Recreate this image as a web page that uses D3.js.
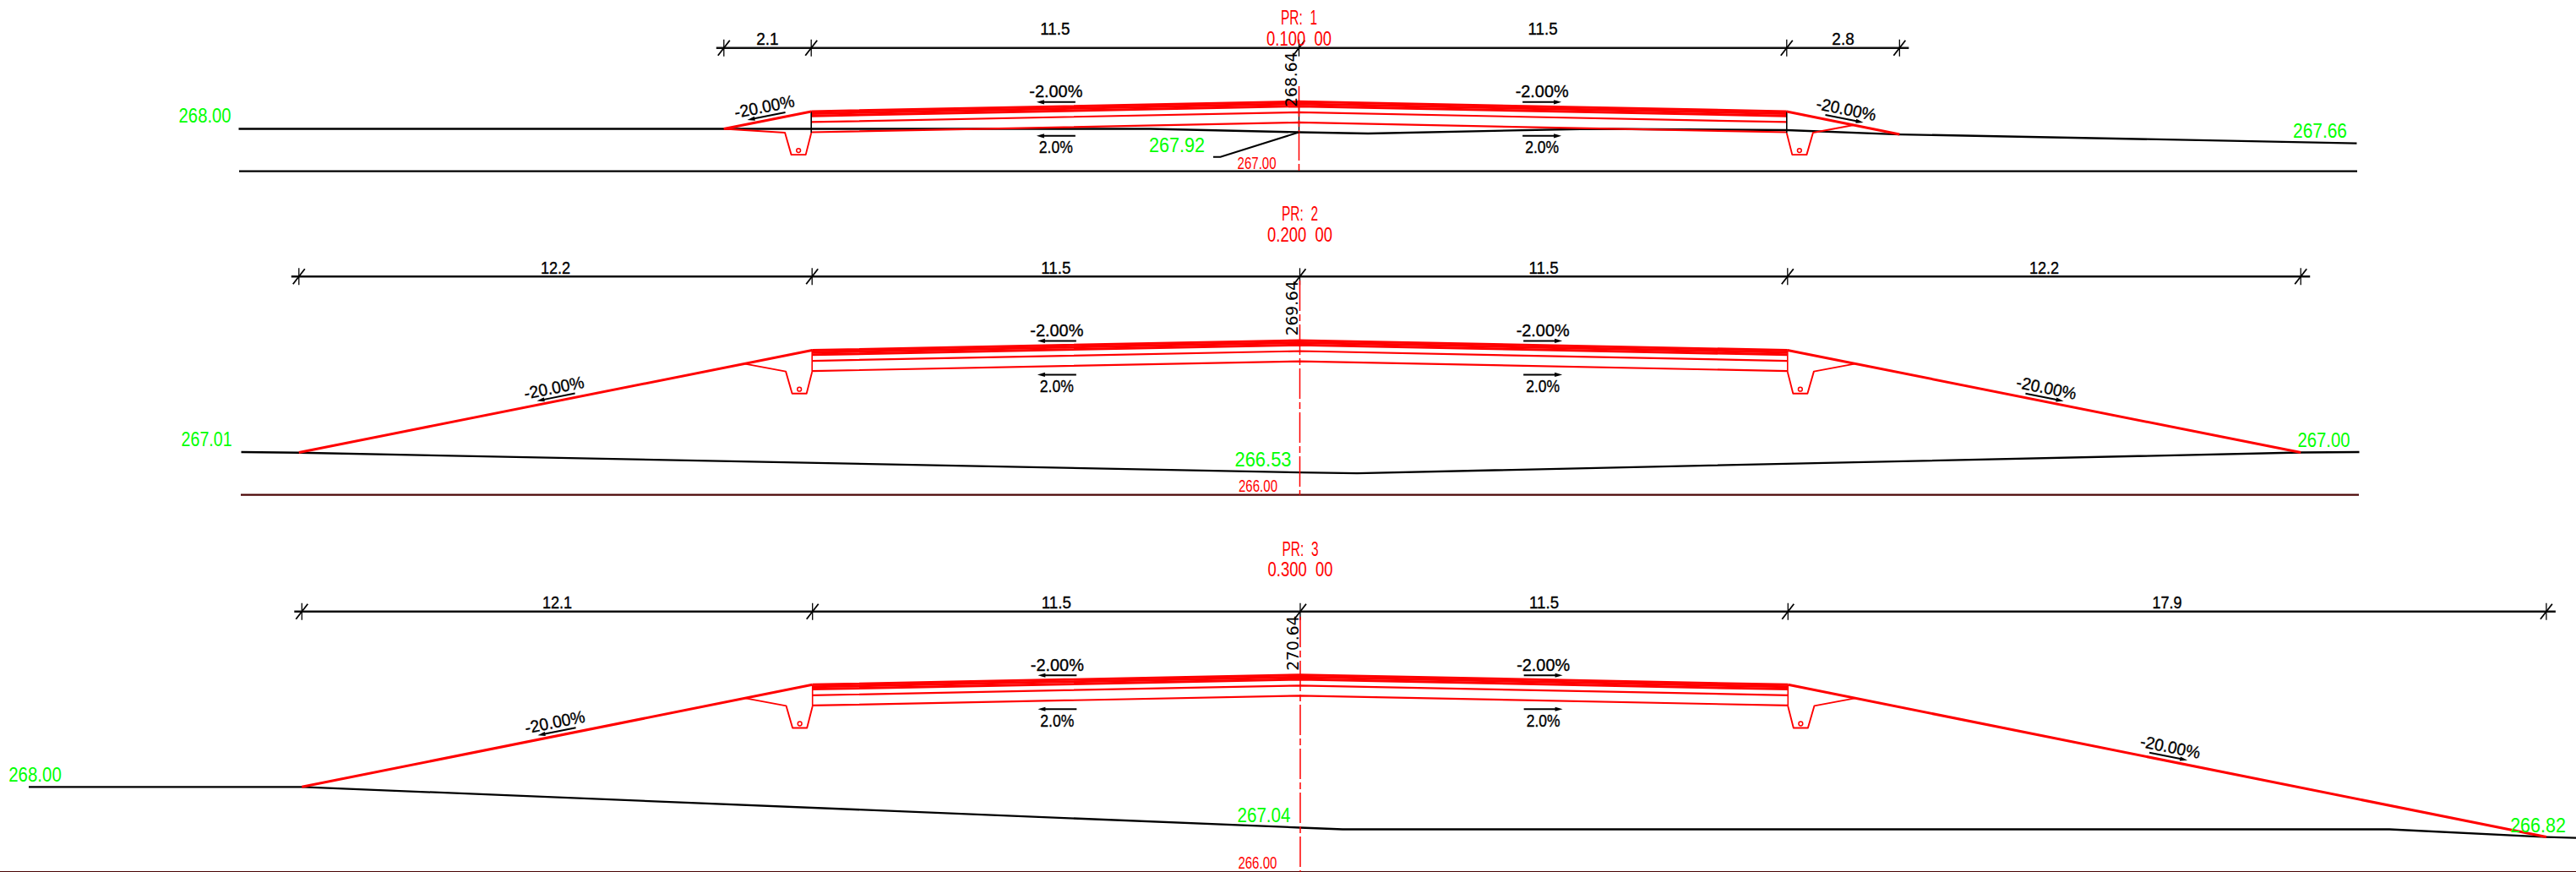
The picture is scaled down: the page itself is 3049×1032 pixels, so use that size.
<!DOCTYPE html>
<html>
<head>
<meta charset="utf-8">
<script src="https://cdn.jsdelivr.net/npm/d3@7"></script>
<style>
  html, body { margin: 0; padding: 0; background: #fff; }
  text { font-family: "Liberation Sans", Arial, sans-serif; white-space: pre; dominant-baseline: central; text-anchor: middle; }
</style>
</head>
<body>
<div id="sections"></div>
<script>
// section titles
const SECTION_NAMES = ["PR:  1", "PR:  2", "PR:  3"]
const CHAINAGES = ["0.100  00", "0.200  00", "0.300  00"]

// elevations, metres
const DATUMS = [267.00, 266.00, 266.00]
const DATUM_LABELS = ["267.00", "266.00", "266.00"]
const CROWNS = [268.64, 269.64, 270.64]
const CROWN_LABELS = ["268.64", "269.64", "270.64"]

// ground line, [offset from axis, elevation]
const GROUND_1 = [[-25.0, 268.00], [-3.5, 268.00], [0, 267.92], [1.63, 267.89], [6.9, 268.00], [11.5, 267.97], [14.16, 267.87], [24.94, 267.66]]
const GROUND_2 = [[-24.96, 267.01], [-23.6, 266.995], [0, 266.53], [1.35, 266.51], [23.6, 267.00], [24.98, 267.01]]
const GROUND_3 = [[-29.98, 268.00], [-23.54, 268.00], [0, 267.04], [1.0, 267.00], [25.68, 267.00], [29.38, 266.82], [30.08, 266.80]]
const GROUNDS = [GROUND_1, GROUND_2, GROUND_3]

// toes of the embankment
const TOE_LEFT = [[-13.56, 268.00], [-23.6, 267.00], [-23.54, 268.00]]
const TOE_RIGHT = [[14.16, 267.87], [23.6, 267.00], [29.38, 266.82]]

// dimension line values
const DIM_LEFT = ["2.1", "12.2", "12.1"]
const DIM_ROAD = "11.5"
const ROAD_HALF = 11.5
const DIM_RIGHT = ["2.8", "12.2", "17.9"]

// grades
const GRADE_TOP = "-2.00%"
const GRADE_BOTTOM = "2.0%"
const GRADE_SLOPE = "-20.00%"

// pavement layers, depth under the finished surface
const LAYER_DEPTHS = [0, 0.05, 0.105, 0.25, 0.49]

// ditch profile, measured from road edge: outward distance, drop
const DITCH = [[0, 0.51], [0.13, 1.02], [0.47, 1.02], [0.62, 0.50], [1.58, 0.32]]
const DITCH_END_1 = [2.06, 0.41]
const DITCH_PIPE = [0.30, 0.92]

// ground spot heights
const GROUND_LABELS_1 = ["268.00", "267.92", "267.66"]
const GROUND_LABELS_2 = ["267.01", "266.53", "267.00"]
const GROUND_LABELS_3 = ["268.00", "267.04", "266.82"]
const GROUND_LABELS = [GROUND_LABELS_1, GROUND_LABELS_2, GROUND_LABELS_3]

/*********************************************
// Layout
*********************************************/
const WIDTH = 3049
const HEIGHT = 1032
const PX_PER_M = 50.2
const RED = "#ff0000"
const GREEN = "#00ff00"
const AXIS_X = [1537.5, 1538.5, 1539]
const DATUM_Y = [202.7, 585.7, 1031.7]
const DIM_Y = [56.7, 327.3, 723.7]
const TITLE_Y = [20.7, 252.7, 649]
const CHAINAGE_Y = [45, 277.7, 673.7]
const AXIS_TOP = [102, 332, 730]
const DATUM_X = [[283, 2790], [285, 2792], [0, 3049]]
const DIM_TEXT_UP = [[10.4, 22.4], [10.6, 10.6], [11, 11]]
const SLOPE_NOTE_AT = [[-12.54, 12.84], [-17.52, 17.54], [-17.51, 20.45]]
const DATUM_LABEL_AT = [[1487.6, 192.3], [1489, 574.3], [1488.4, 1020.7]]
const GROUND_LABEL_AT = [
  [[242.6, 137.3, 62], [1393, 172.3, 66], [2746, 155, 64]],
  [[244.6, 520, 60], [1495, 544.3, 67], [2750.5, 520.7, 62]],
  [[41.5, 917.3, 62.5], [1496, 965, 63], [3004, 976.7, 65.7]]
]

function translateStr(x, y) {
  return `translate(${x},${y})`
}

/*********************************************
// SVG Drawing functions
*********************************************/
function createSVG(elementId, width, height) {
  return d3.select(`#${elementId}`)
    .append("svg")
    .attr("width", width)
    .attr("height", height)
    .style("display", "block")
}

function drawPath(g, points, line, color, width) {
  return g.append("path")
    .attr("d", line(points))
    .attr("fill", "none")
    .attr("stroke", color)
    .attr("stroke-width", width)
    .attr("stroke-linejoin", "round")
}

function drawLabel(g, str, x, y, size, color, width) {
  const t = g.append("text")
    .text(str)
    .attr("x", x)
    .attr("y", y)
    .attr("font-size", size)
    .attr("fill", color)
  if (width)
    t.attr("textLength", width).attr("lengthAdjust", "spacingAndGlyphs")
  if (color === "#000")
    t.attr("stroke", "#000").attr("stroke-width", 0.35)
  return t
}

function drawArrow(g, x1, y1, x2, y2) {
  // short shaft with a solid head at x2,y2
  const a = Math.atan2(y2 - y1, x2 - x1)
  const px = Math.cos(a), py = Math.sin(a)
  g.append("line")
    .attr("x1", x1).attr("y1", y1)
    .attr("x2", x2 - px * 6).attr("y2", y2 - py * 6)
    .attr("stroke", "#000").attr("stroke-width", 2)
  g.append("path")
    .attr("d", `M${x2},${y2}L${x2 - px * 9 - py * 2.6},${y2 - py * 9 + px * 2.6}L${x2 - px * 9 + py * 2.6},${y2 - py * 9 - px * 2.6}Z`)
    .attr("fill", "#000")
}

function drawDimensions(g, i, x) {
  const stops = [TOE_LEFT[i][0], -ROAD_HALF, 0, ROAD_HALF, TOE_RIGHT[i][0]]
  const labels = [DIM_LEFT[i], DIM_ROAD, DIM_ROAD, DIM_RIGHT[i]]
  const y = DIM_Y[i]

  g.append("line")
    .attr("x1", x(stops[0]) - 9).attr("x2", x(stops[4]) + 11)
    .attr("y1", y).attr("y2", y)
    .attr("stroke", "#111").attr("stroke-width", 2.4)

  stops.forEach((s) => {
    g.append("line")
      .attr("x1", x(s)).attr("x2", x(s))
      .attr("y1", y - 10).attr("y2", y + 10)
      .attr("stroke", "#000").attr("stroke-width", 1.3)
    g.append("line")
      .attr("x1", x(s) - 7).attr("x2", x(s) + 7)
      .attr("y1", y + 9).attr("y2", y - 9)
      .attr("stroke", "#000").attr("stroke-width", 1.8)
  })

  labels.forEach((l, k) => {
    const up = (k === 1 || k === 2) ? DIM_TEXT_UP[i][1] : DIM_TEXT_UP[i][0]
    drawLabel(g, l, (x(stops[k]) + x(stops[k + 1])) / 2, y - up, 20, "#000", l.length * 8.8)
  })
}

function drawDitch(g, i, side, x, y, line, edge) {
  const pts = DITCH.map((d) => [d[0], d[1]])
  if (i === 0 && side < 0)
    pts[pts.length - 1] = DITCH_END_1
  const toPoint = (d) => [side * (ROAD_HALF + d[0]), edge - d[1]]

  drawPath(g, pts.map(toPoint), line, RED, 1.9)

  const pipe = toPoint(DITCH_PIPE)
  g.append("circle")
    .attr("cx", x(pipe[0]))
    .attr("cy", y(pipe[1]))
    .attr("r", 2.4)
    .attr("fill", "none")
    .attr("stroke", RED)
    .attr("stroke-width", 1.5)
}

function drawRoad(g, i, x, y, line) {
  const crown = CROWNS[i]
  const edge = crown - ROAD_HALF * 0.02

  // pavement layers
  LAYER_DEPTHS.forEach((depth, k) => {
    const pts = [[-ROAD_HALF, edge - depth], [0, crown - depth], [ROAD_HALF, edge - depth]]
    drawPath(g, pts, line, RED, k < 3 ? 3 : 2.2)
  })

  // road edges
  const edgeColor = i === 0 ? "#000" : RED
  ;[-ROAD_HALF, ROAD_HALF].forEach((s) => {
    drawPath(g, [[s, edge], [s, edge - LAYER_DEPTHS[4] - 0.02]], line, edgeColor, 1.6)
  })

  // embankment
  drawPath(g, [TOE_LEFT[i], [-ROAD_HALF, edge]], line, RED, 3)
  drawPath(g, [[ROAD_HALF, edge], TOE_RIGHT[i]], line, RED, 3)

  drawDitch(g, i, -1, x, y, line, edge)
  drawDitch(g, i, 1, x, y, line, edge)
}

function drawGrades(g, i, x, y) {
  const crownY = y(CROWNS[i])
  ;[-1, 1].forEach((side) => {
    const cx = x(side * 5.73)
    const from = cx - side * 23
    const to = cx + side * 23
    drawLabel(g, GRADE_TOP, cx, crownY - 12, 20, "#000", 63)
    drawArrow(g, from, crownY + 0.5, to, crownY + 0.5)
    drawArrow(g, from, crownY + 40.5, to, crownY + 40.5)
    drawLabel(g, GRADE_BOTTOM, cx, crownY + 54, 20, "#000", 40)
  })

  // notes on the embankment slopes
  const edge = CROWNS[i] - ROAD_HALF * 0.02
  SLOPE_NOTE_AT[i].forEach((off) => {
    const side = off < 0 ? -1 : 1
    const gradeEl = edge - (Math.abs(off) - ROAD_HALF) * 0.2
    const note = g.append("g")
      .attr("transform", `${translateStr(x(off), y(gradeEl))} rotate(${side * 11.3})`)
    drawLabel(note, GRADE_SLOPE, 0, -16.5, 20, "#000", 72)
    drawArrow(note, -side * 23, -5, side * 23, -5)
  })
}

function drawSection(svg, i) {
  const x = d3.scaleLinear().domain([0, 1]).range([AXIS_X[i], AXIS_X[i] + PX_PER_M])
  const y = d3.scaleLinear().domain([DATUMS[i], DATUMS[i] + 1]).range([DATUM_Y[i], DATUM_Y[i] - PX_PER_M])
  const line = d3.line().x((d) => x(d[0])).y((d) => y(d[1]))
  const g = svg.append("g").classed("section", true)

  // datum line
  g.append("line")
    .attr("x1", DATUM_X[i][0]).attr("x2", DATUM_X[i][1])
    .attr("y1", DATUM_Y[i]).attr("y2", DATUM_Y[i])
    .attr("stroke", i === 0 ? "#000" : "#4a0505")
    .attr("stroke-width", i === 2 ? 1.6 : 2.2)

  drawPath(g, GROUNDS[i], line, "#000", 2.3)
  drawDimensions(g, i, x)

  if (i === 0)
    drawPath(g, [[0, CROWNS[i]], [0, GROUNDS[i][2][1]]], line, "#000", 1.4)

  drawRoad(g, i, x, y, line)

  // axis
  g.append("line")
    .attr("x1", AXIS_X[i]).attr("x2", AXIS_X[i])
    .attr("y1", AXIS_TOP[i]).attr("y2", DATUM_Y[i])
    .attr("stroke", RED)
    .attr("stroke-width", 1.5)
    .attr("stroke-dasharray", "36,4,8,4")

  drawGrades(g, i, x, y)

  // titles
  drawLabel(g, SECTION_NAMES[i], AXIS_X[i], TITLE_Y[i], 24, RED, 43)
  drawLabel(g, CHAINAGES[i], AXIS_X[i], CHAINAGE_Y[i], 24, RED, 77)

  // crown height, written along the axis
  g.append("text")
    .text(CROWN_LABELS[i])
    .attr("transform", `${translateStr(AXIS_X[i] - 9.5, DIM_Y[i] + 37.5)} rotate(-90)`)
    .attr("style", "font-family:'DejaVu Sans'")
    .attr("font-size", 19)
    .attr("fill", "#000")
    .attr("textLength", 65)
    .attr("lengthAdjust", "spacingAndGlyphs")

  // spot heights
  GROUND_LABELS[i].forEach((l, k) => {
    const at = GROUND_LABEL_AT[i][k]
    drawLabel(g, l, at[0], at[1], 23, GREEN, at[2])
  })
  drawLabel(g, DATUM_LABELS[i], DATUM_LABEL_AT[i][0], DATUM_LABEL_AT[i][1], 21, RED, 46)

  // leader to the first ground height
  if (i === 0) {
    g.append("path")
      .attr("d", d3.line()([[x(0), y(GROUNDS[i][2][1])], [1444.5, 185.7], [1436, 185.7]]))
      .attr("fill", "none")
      .attr("stroke", "#000")
      .attr("stroke-width", 2)
  }
}

/*********************************************
// Draw
*********************************************/
const svg = createSVG("sections", WIDTH, HEIGHT)
SECTION_NAMES.forEach((_, i) => drawSection(svg, i))
</script>
</body>
</html>
